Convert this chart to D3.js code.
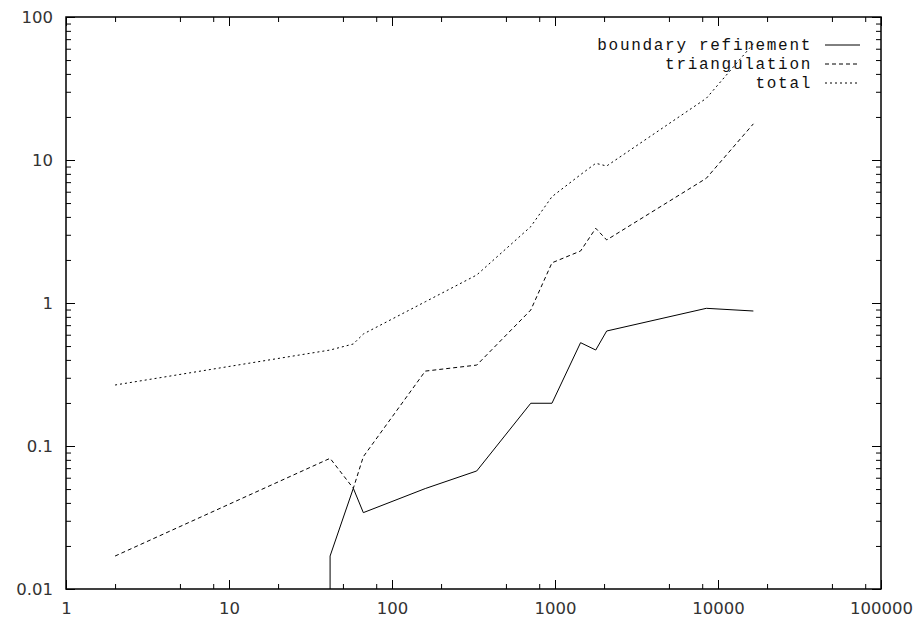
<!DOCTYPE html>
<html>
<head>
<meta charset="utf-8">
<script src="https://cdn.jsdelivr.net/npm/d3@7"></script>
<style>
  html, body { margin: 0; padding: 0; background: #fff; }
  svg { display: block; }
</style>
</head>
<body>
<svg id="chart" width="916" height="617"></svg>
<script>
// ---- data ----
const sizes = [2, 41.7, 57.9, 66.7, 160, 331, 710, 958, 1435, 1778, 2075, 8480, 16480];
const boundarySizes = [41.7, 41.7, 57.9, 66.7, 160, 331, 710, 958, 1435, 1778, 2075, 8480, 16480];
const boundaryRefinement = [0.001, 0.017, 0.0506, 0.0342, 0.0504, 0.0669, 0.199, 0.199, 0.528, 0.469, 0.637, 0.918, 0.879];
const triangulation = [0.017, 0.082, 0.0506, 0.0842, 0.334, 0.368, 0.893, 1.91, 2.31, 3.33, 2.76, 7.45, 17.9];
const total = [0.267, 0.469, 0.517, 0.607, 1.02, 1.57, 3.42, 5.54, 7.9, 9.48, 9.08, 27, 65];
const seriesNames = ["boundary refinement", "triangulation", "total"];
const xTickValues = [1, 10, 100, 1000, 10000, 100000];
const xTickLabels = ["1", "10", "100", "1000", "10000", "100000"];
const yTickValues = [0.01, 0.1, 1, 10, 100];
const yTickLabels = ["0.01", "0.1", "1", "10", "100"];
const xMinorMantissas = [2, 5, 8];
const yMinorMantissas = [2, 3, 4, 5, 6, 7, 8, 9];

// ---- layout ----
const plotLeft = 66, plotRight = 881, plotTop = 17, plotBottom = 589;
const svg = d3.select("#chart");

const x = d3.scaleLog().domain([1, 100000]).range([plotLeft, plotRight]);
const y = d3.scaleLog().domain([0.01, 100]).range([plotBottom, plotTop]);

const xMinor = [];
for (let d = 1; d < 100000; d *= 10) xMinorMantissas.forEach(m => xMinor.push(+(m * d).toPrecision(3)));
const yMinor = [];
for (let d = 0.01; d < 99; d *= 10) yMinorMantissas.forEach(m => yMinor.push(+(m * d).toPrecision(3)));

const labelFont = "DejaVu Sans, sans-serif";
const labelSize = "16.5px";

function styleAxis(g, withText) {
  g.select(".domain").remove();
  g.selectAll(".tick line").attr("stroke", "#000").attr("stroke-width", 1);
  g.selectAll(".tick text")
    .attr("fill", "#333")
    .style("font-family", labelFont)
    .style("font-size", labelSize);
  if (!withText) g.selectAll(".tick text").remove();
}

// bottom
svg.append("g").attr("transform", `translate(0,${plotBottom})`)
  .call(d3.axisBottom(x).tickValues(xTickValues).tickSize(-9).tickPadding(13)
    .tickFormat((d, i) => xTickLabels[i]))
  .call(g => styleAxis(g, true));
svg.append("g").attr("transform", `translate(0,${plotBottom})`)
  .call(d3.axisBottom(x).tickValues(xMinor).tickSize(-5).tickFormat(""))
  .call(g => styleAxis(g, false));
// top
svg.append("g").attr("transform", `translate(0,${plotTop})`)
  .call(d3.axisTop(x).tickValues(xTickValues).tickSize(-9).tickFormat(""))
  .call(g => styleAxis(g, false));
svg.append("g").attr("transform", `translate(0,${plotTop})`)
  .call(d3.axisTop(x).tickValues(xMinor).tickSize(-5).tickFormat(""))
  .call(g => styleAxis(g, false));
// left
svg.append("g").attr("transform", `translate(${plotLeft},0)`)
  .call(d3.axisLeft(y).tickValues(yTickValues).tickSize(-9).tickPadding(13)
    .tickFormat((d, i) => yTickLabels[i]))
  .call(g => styleAxis(g, true));
svg.append("g").attr("transform", `translate(${plotLeft},0)`)
  .call(d3.axisLeft(y).tickValues(yMinor).tickSize(-5).tickFormat(""))
  .call(g => styleAxis(g, false));
// right
svg.append("g").attr("transform", `translate(${plotRight},0)`)
  .call(d3.axisRight(y).tickValues(yTickValues).tickSize(-9).tickFormat(""))
  .call(g => styleAxis(g, false));
svg.append("g").attr("transform", `translate(${plotRight},0)`)
  .call(d3.axisRight(y).tickValues(yMinor).tickSize(-5).tickFormat(""))
  .call(g => styleAxis(g, false));

// border
svg.append("rect")
  .attr("x", plotLeft).attr("y", plotTop)
  .attr("width", plotRight - plotLeft).attr("height", plotBottom - plotTop)
  .attr("fill", "none").attr("stroke", "#000").attr("stroke-width", 1.5);

// clip
svg.append("clipPath").attr("id", "plotclip")
  .append("rect").attr("x", plotLeft).attr("y", plotTop)
  .attr("width", plotRight - plotLeft).attr("height", plotBottom - plotTop);

const line = d3.line().x(d => x(d[0])).y(d => y(d[1]));
const dashes = [null, "4,3", "2,3"];
const seriesData = [
  boundarySizes.map((s, i) => [s, boundaryRefinement[i]]),
  sizes.map((s, i) => [s, triangulation[i]]),
  sizes.map((s, i) => [s, total[i]])
];

const plot = svg.append("g").attr("clip-path", "url(#plotclip)");
seriesData.forEach((data, i) => {
  plot.append("path")
    .datum(data)
    .attr("d", line)
    .attr("fill", "none")
    .attr("stroke", "#000")
    .attr("stroke-width", 1)
    .attr("stroke-dasharray", dashes[i]);
});

// legend
const legendRight = 812, charW = 11.3, legFs = 16;
const rowY = [45, 64, 83];
const leg = svg.append("g");
seriesNames.forEach((name, i) => {
  leg.append("text")
    .attr("x", legendRight - name.length * charW)
    .attr("y", rowY[i])
    .attr("dy", "0.33em")
    .style("font-family", "Liberation Mono, DejaVu Sans Mono, monospace")
    .style("font-size", legFs + "px")
    .style("letter-spacing", (charW - 0.6 * legFs) + "px")
    .attr("fill", "#111")
    .text(name);
  leg.append("line")
    .attr("x1", 825).attr("x2", 860)
    .attr("y1", rowY[i]).attr("y2", rowY[i])
    .attr("stroke", "#000").attr("stroke-width", 1)
    .attr("stroke-dasharray", dashes[i]);
});
</script>
</body>
</html>
